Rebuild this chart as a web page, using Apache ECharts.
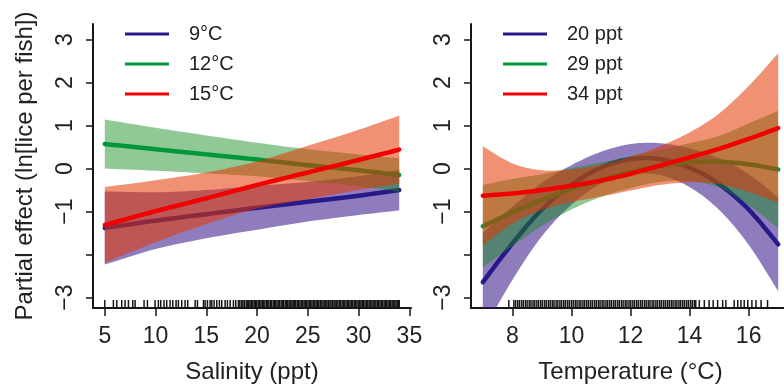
<!DOCTYPE html>
<html>
<head>
<meta charset="utf-8">
<script src="https://cdn.jsdelivr.net/npm/echarts@6/dist/echarts.min.js"></script>
<style>
  html, body { margin: 0; padding: 0; background: #fff; }
  #chart { width: 784px; height: 389px; }
</style>
</head>
<body>
<div id="chart"></div>
<script>
// ---- data ----
// left panel: salinity effect at three temperatures
const salX  = [5, 10, 15, 20, 25, 30, 34];
const fit9  = [-1.38, -1.21, -1.06, -0.91, -0.77, -0.63, -0.50];
const lo9   = [-2.23, -1.87, -1.62, -1.42, -1.23, -1.08, -0.97];
const hi9   = [-0.53, -0.55, -0.50, -0.40, -0.31, -0.18, -0.03];
const fit12 = [0.57, 0.45, 0.33, 0.21, 0.08, -0.04, -0.15];
const lo12  = [0.00, -0.05, -0.11, -0.18, -0.29, -0.41, -0.54];
const hi12  = [1.14, 0.95, 0.77, 0.60, 0.45, 0.33, 0.24];
const fit15 = [-1.31, -0.99, -0.69, -0.38, -0.09, 0.20, 0.44];
const lo15  = [-2.19, -1.71, -1.29, -0.93, -0.71, -0.50, -0.35];
const hi15  = [-0.43, -0.27, -0.09, 0.17, 0.53, 0.90, 1.23];

// right panel: temperature effect at three salinities
const tempX = [7, 8, 9, 10, 11, 12, 13, 14, 15, 16, 17];
const fit20 = [-2.64, -1.74, -0.95, -0.38, 0.02, 0.22, 0.22, 0.02, -0.36, -0.95, -1.76];
const lo20  = [-3.79, -2.59, -1.57, -0.84, -0.35, -0.13, -0.15, -0.43, -0.96, -1.77, -2.85];
const hi20  = [-1.49, -0.89, -0.33, 0.08, 0.39, 0.57, 0.59, 0.47, 0.24, -0.13, -0.67];
const fit29 = [-1.34, -1.02, -0.73, -0.47, -0.26, -0.08, 0.06, 0.15, 0.16, 0.10, -0.02];
const lo29  = [-2.30, -1.80, -1.33, -0.95, -0.66, -0.45, -0.31, -0.29, -0.44, -0.85, -1.38];
const hi29  = [-0.38, -0.24, -0.13, 0.01, 0.14, 0.29, 0.43, 0.59, 0.76, 1.05, 1.34];
const fit34 = [-0.63, -0.58, -0.50, -0.40, -0.28, -0.12, 0.07, 0.26, 0.46, 0.69, 0.94];
const lo34  = [-1.78, -1.28, -0.96, -0.78, -0.65, -0.51, -0.38, -0.32, -0.36, -0.54, -0.80];
const hi34  = [0.52, 0.12, -0.04, -0.02, 0.09, 0.27, 0.52, 0.84, 1.28, 1.92, 2.68];

// rug of observations
const rugSal = [5.0, 5.85, 6.18, 6.67, 7.0, 7.33, 7.76, 7.99, 8.87, 9.2, 9.95, 10.28, 10.51, 10.84,
  11.1, 11.43, 11.7, 12.02, 12.25, 12.58, 12.91, 13.17, 13.9, 14.13, 14.72, 14.88, 15.11, 15.37,
  15.54, 15.77, 16.03, 16.29, 16.52, 16.85, 17.08, 17.35, 17.67, 17.9,
  18.16, 18.3, 18.47, 18.6, 18.74, 18.92, 19.03, 19.18, 19.31, 19.44, 19.57, 19.72, 19.83, 19.97,
  20.12, 20.23, 20.38, 20.51, 20.63, 20.77, 20.92, 21.04, 21.16, 21.31, 21.42, 21.58, 21.71, 21.82,
  21.96, 22.11, 22.22, 22.37, 22.52, 22.61, 22.77, 22.9, 23.02, 23.16, 23.29, 23.43, 23.56, 23.69,
  23.81, 23.96, 24.09, 24.22, 24.36, 24.49, 24.63, 24.75, 24.88, 25.02, 25.14, 25.29, 25.41, 25.56,
  25.68, 25.82, 25.95, 26.08, 26.22, 26.34, 26.49, 26.61, 26.76, 26.88, 27.01, 27.17, 27.28, 27.42,
  27.57, 27.69, 27.82, 27.96, 28.1, 28.21, 28.37, 28.49, 28.62, 28.77, 28.89, 29.03, 29.16, 29.3,
  29.42, 29.57, 29.69, 29.83, 29.96, 30.11, 30.23, 30.36, 30.5, 30.63, 30.78, 30.9, 31.04, 31.16,
  31.31, 31.43, 31.57, 31.7, 31.84, 31.97, 32.1, 32.24, 32.36, 32.51, 32.63, 32.77, 32.9, 33.04,
  33.16, 33.3, 33.43, 33.57, 33.69, 33.83, 33.95, 34.0];
const rugTemp = [7.88, 8.05, 8.11, 8.18, 8.24, 8.31, 8.37, 8.44, 8.5, 8.57, 8.63, 8.7, 8.76, 8.83,
  8.89, 8.96, 9.02, 9.09, 9.15, 9.22, 9.28, 9.35, 9.41, 9.48, 9.54, 9.61, 9.67, 9.74, 9.8, 9.87,
  9.93, 10.0, 10.06, 10.13, 10.19, 10.26, 10.32, 10.39, 10.45, 10.52, 10.58, 10.65, 10.71, 10.78,
  10.84, 10.91, 10.97, 11.04, 11.1, 11.17, 11.23, 11.3, 11.36, 11.43, 11.49, 11.56, 11.62, 11.69,
  11.75, 11.82, 11.88, 11.95, 12.01, 12.08, 12.14, 12.21, 12.27, 12.34, 12.4, 12.47, 12.53, 12.6,
  12.66, 12.73, 12.79, 12.86, 12.92, 12.99, 13.05, 13.12, 13.18, 13.25, 13.31, 13.38, 13.44, 13.51,
  13.57, 13.64, 13.7, 13.77, 13.83, 13.9, 13.96, 14.03, 14.09, 14.16,
  14.21, 14.33, 14.5, 14.66, 14.8, 14.95, 15.12, 15.23, 15.51, 15.63, 15.74, 15.85, 15.97, 16.11,
  16.25, 16.42, 16.64];

// axis ticks / labels
const yTicks  = [-3, -2, -1, 0, 1, 2, 3];
const yLabels = [-3, -1, 0, 1, 2, 3];
const salTicks  = [5, 10, 15, 20, 25, 30, 35];
const tempTicks = [8, 10, 12, 14, 16];

const Y_MIN = -3.24, Y_MAX = 3.36;
const FONT = "'Liberation Sans', Arial, Helvetica, sans-serif";
const INK = '#161616';

const COL = {
  purple: { line: '#28198a', band: 'rgba(60,30,140,0.58)' },
  green:  { line: '#00963a', band: 'rgba(20,140,30,0.47)' },
  red:    { line: '#f00000', band: 'rgba(228,55,0,0.55)' },
};

const zip = (xs, ys) => xs.map((x, i) => [x, ys[i]]);

// Catmull-Rom spline through pixel points (drawing only, the data stays as read)
function spline(pts, steps) {
  if (!steps) return pts;
  const out = [pts[0]];
  for (let i = 0; i < pts.length - 1; i++) {
    const p0 = pts[Math.max(i - 1, 0)], p1 = pts[i], p2 = pts[i + 1], p3 = pts[Math.min(i + 2, pts.length - 1)];
    const c1 = [p1[0] + (p2[0] - p0[0]) / 6, p1[1] + (p2[1] - p0[1]) / 6];
    const c2 = [p2[0] - (p3[0] - p1[0]) / 6, p2[1] - (p3[1] - p1[1]) / 6];
    for (let s = 1; s <= steps; s++) {
      const t = s / steps, u = 1 - t;
      const a = u * u * u, b = 3 * u * u * t, c = 3 * u * t * t, d = t * t * t;
      out.push([a * p1[0] + b * c1[0] + c * c2[0] + d * p2[0], a * p1[1] + b * c1[1] + c * c2[1] + d * p2[1]]);
    }
  }
  return out;
}

function band(name, grid, xs, lo, hi, color, steps) {
  return {
    type: 'custom', name, xAxisIndex: grid, yAxisIndex: grid, clip: true, silent: true,
    data: zip(xs, hi),
    renderItem: (params, api) => {
      if (params.dataIndex !== 0) return null;
      const up = spline(xs.map((x, i) => api.coord([x, hi[i]])), steps);
      const dn = spline(xs.map((x, i) => api.coord([x, lo[i]])), steps).reverse();
      return { type: 'polygon', shape: { points: up.concat(dn) }, style: { fill: color } };
    },
  };
}

function fitLine(name, grid, xs, ys, color, steps) {
  return {
    type: 'custom', name, xAxisIndex: grid, yAxisIndex: grid, clip: true, silent: true,
    data: zip(xs, ys), itemStyle: { color },
    renderItem: (params, api) => {
      if (params.dataIndex !== 0) return null;
      const pts = spline(xs.map((x, i) => api.coord([x, ys[i]])), steps);
      return { type: 'polyline', shape: { points: pts },
               style: { stroke: color, lineWidth: 4.5, lineCap: 'round', lineJoin: 'round', fill: null } };
    },
  };
}

function rug(grid, values) {
  return {
    type: 'custom', xAxisIndex: grid, yAxisIndex: grid, silent: true,
    data: values.map(v => [v, Y_MIN]),
    renderItem: (params, api) => {
      const p = api.coord([api.value(0), Y_MIN]);
      return { type: 'line', shape: { x1: p[0], y1: p[1], x2: p[0], y2: p[1] - 8 },
               style: { stroke: INK, lineWidth: 1.5 } };
    },
  };
}

function xAxis(grid, min, max, ticks, name) {
  return {
    type: 'value', gridIndex: grid, min, max, name, nameLocation: 'middle', nameGap: 52,
    nameTextStyle: { fontSize: 24, color: '#222', fontFamily: FONT },
    axisLine: { show: true, onZero: false, lineStyle: { color: INK, width: 2 } },
    axisTick: { show: true, customValues: ticks, length: 8, lineStyle: { color: INK, width: 1.5 } },
    axisLabel: { customValues: ticks, fontSize: 23, color: '#222', margin: 17, fontFamily: FONT },
    splitLine: { show: false },
  };
}

function yAxis(grid, name) {
  return {
    type: 'value', gridIndex: grid, min: Y_MIN, max: Y_MAX, name, nameLocation: 'middle', nameGap: 56,
    nameTextStyle: { fontSize: 24, color: '#222', fontFamily: FONT },
    axisLine: { show: true, onZero: false, lineStyle: { color: INK, width: 2 } },
    axisTick: { show: true, customValues: yTicks, length: 7, lineStyle: { color: INK, width: 1.5 } },
    axisLabel: { customValues: yLabels, rotate: 90, fontSize: 23, color: '#222', margin: 16, fontFamily: FONT,
                 formatter: v => (v < 0 ? '\u2212' + Math.abs(v) : String(v)) },
    splitLine: { show: false },
  };
}

const legendBase = {
  orient: 'vertical', icon: 'rect', itemWidth: 44, itemHeight: 3, itemGap: 8, padding: 0,
  selectedMode: false,
  textStyle: { fontSize: 20, color: '#222', fontFamily: FONT, lineHeight: 22, padding: [0, 0, 0, 15] },
};

const chart = echarts.init(document.getElementById('chart'));
chart.setOption({
  animation: false,
  backgroundColor: '#fff',
  grid: [
    { left: 93, top: 24, width: 318, height: 284, containLabel: false, outerBoundsMode: 'none' },
    { left: 471, top: 24, width: 319, height: 284, containLabel: false, outerBoundsMode: 'none' },
  ],
  xAxis: [
    xAxis(0, 3.84, 35.16, salTicks, 'Salinity (ppt)'),
    xAxis(1, 6.6, 17.4, tempTicks, 'Temperature (\u00b0C)'),
  ],
  yAxis: [
    yAxis(0, 'Partial effect (ln[lice per fish])'),
    yAxis(1, ''),
  ],
  legend: [
    { ...legendBase, left: 125, top: 23, data: ['9\u00b0C', '12\u00b0C', '15\u00b0C'] },
    { ...legendBase, left: 503, top: 23, data: ['20 ppt', '29 ppt', '34 ppt'] },
  ],
  series: [
    band('b9', 0, salX, lo9, hi9, COL.purple.band, 8),
    fitLine('9\u00b0C', 0, salX, fit9, COL.purple.line, 8),
    band('b12', 0, salX, lo12, hi12, COL.green.band, 8),
    fitLine('12\u00b0C', 0, salX, fit12, COL.green.line, 8),
    band('b15', 0, salX, lo15, hi15, COL.red.band, 8),
    fitLine('15\u00b0C', 0, salX, fit15, COL.red.line, 8),
    rug(0, rugSal),

    band('b20', 1, tempX, lo20, hi20, COL.purple.band, 10),
    fitLine('20 ppt', 1, tempX, fit20, COL.purple.line, 10),
    band('b29', 1, tempX, lo29, hi29, COL.green.band, 10),
    fitLine('29 ppt', 1, tempX, fit29, COL.green.line, 10),
    band('b34', 1, tempX, lo34, hi34, COL.red.band, 10),
    fitLine('34 ppt', 1, tempX, fit34, COL.red.line, 10),
    rug(1, rugTemp),
  ],
});
</script>
</body>
</html>
